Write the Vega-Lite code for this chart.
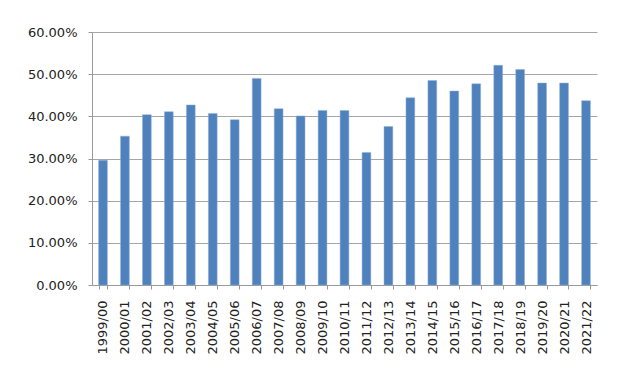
{
  "$schema": "https://vega.github.io/schema/vega-lite/v6.json",
  "width": 505,
  "height": 253,
  "autosize": {"type": "none"},
  "padding": {"left": 92, "top": 32, "right": 28, "bottom": 100},
  "background": "white",
  "config": {
    "view": {"stroke": null},
    "font": "DejaVu Sans"
  },
  "data": {
    "values": [
      {"year": "1999/00", "value": 0.296},
      {"year": "2000/01", "value": 0.353},
      {"year": "2001/02", "value": 0.404},
      {"year": "2002/03", "value": 0.411},
      {"year": "2003/04", "value": 0.427},
      {"year": "2004/05", "value": 0.407},
      {"year": "2005/06", "value": 0.392},
      {"year": "2006/07", "value": 0.490},
      {"year": "2007/08", "value": 0.418},
      {"year": "2008/09", "value": 0.401},
      {"year": "2009/10", "value": 0.414},
      {"year": "2010/11", "value": 0.414},
      {"year": "2011/12", "value": 0.314},
      {"year": "2012/13", "value": 0.376},
      {"year": "2013/14", "value": 0.444},
      {"year": "2014/15", "value": 0.485},
      {"year": "2015/16", "value": 0.460},
      {"year": "2016/17", "value": 0.477},
      {"year": "2017/18", "value": 0.521},
      {"year": "2018/19", "value": 0.511},
      {"year": "2019/20", "value": 0.479},
      {"year": "2020/21", "value": 0.479},
      {"year": "2021/22", "value": 0.437}
    ]
  },
  "mark": {"type": "bar", "color": "#4f81bd", "stroke": "#8fb0d8", "strokeWidth": 0.5},
  "encoding": {
    "x": {
      "field": "year",
      "type": "nominal",
      "sort": null,
      "scale": {"paddingInner": 0.6, "paddingOuter": 0.3},
      "axis": {
        "title": null,
        "labelAngle": -90,
        "labelAlign": "right",
        "labelBaseline": "middle",
        "labelFontSize": 13,
        "labelColor": "#222222",
        "labelPadding": 11,
        "tickBand": "extent",
        "tickSize": 4,
        "tickColor": "#999999",
        "domainColor": "#999999",
        "grid": false
      }
    },
    "y": {
      "field": "value",
      "type": "quantitative",
      "scale": {"domain": [0, 0.6], "nice": false},
      "axis": {
        "title": null,
        "values": [0, 0.1, 0.2, 0.3, 0.4, 0.5, 0.6],
        "format": ".2%",
        "labelFontSize": 13,
        "labelColor": "#222222",
        "labelPadding": 11,
        "tickSize": 4,
        "tickColor": "#999999",
        "domainColor": "#999999",
        "gridColor": "#a6a6a6",
        "grid": true
      }
    }
  }
}
